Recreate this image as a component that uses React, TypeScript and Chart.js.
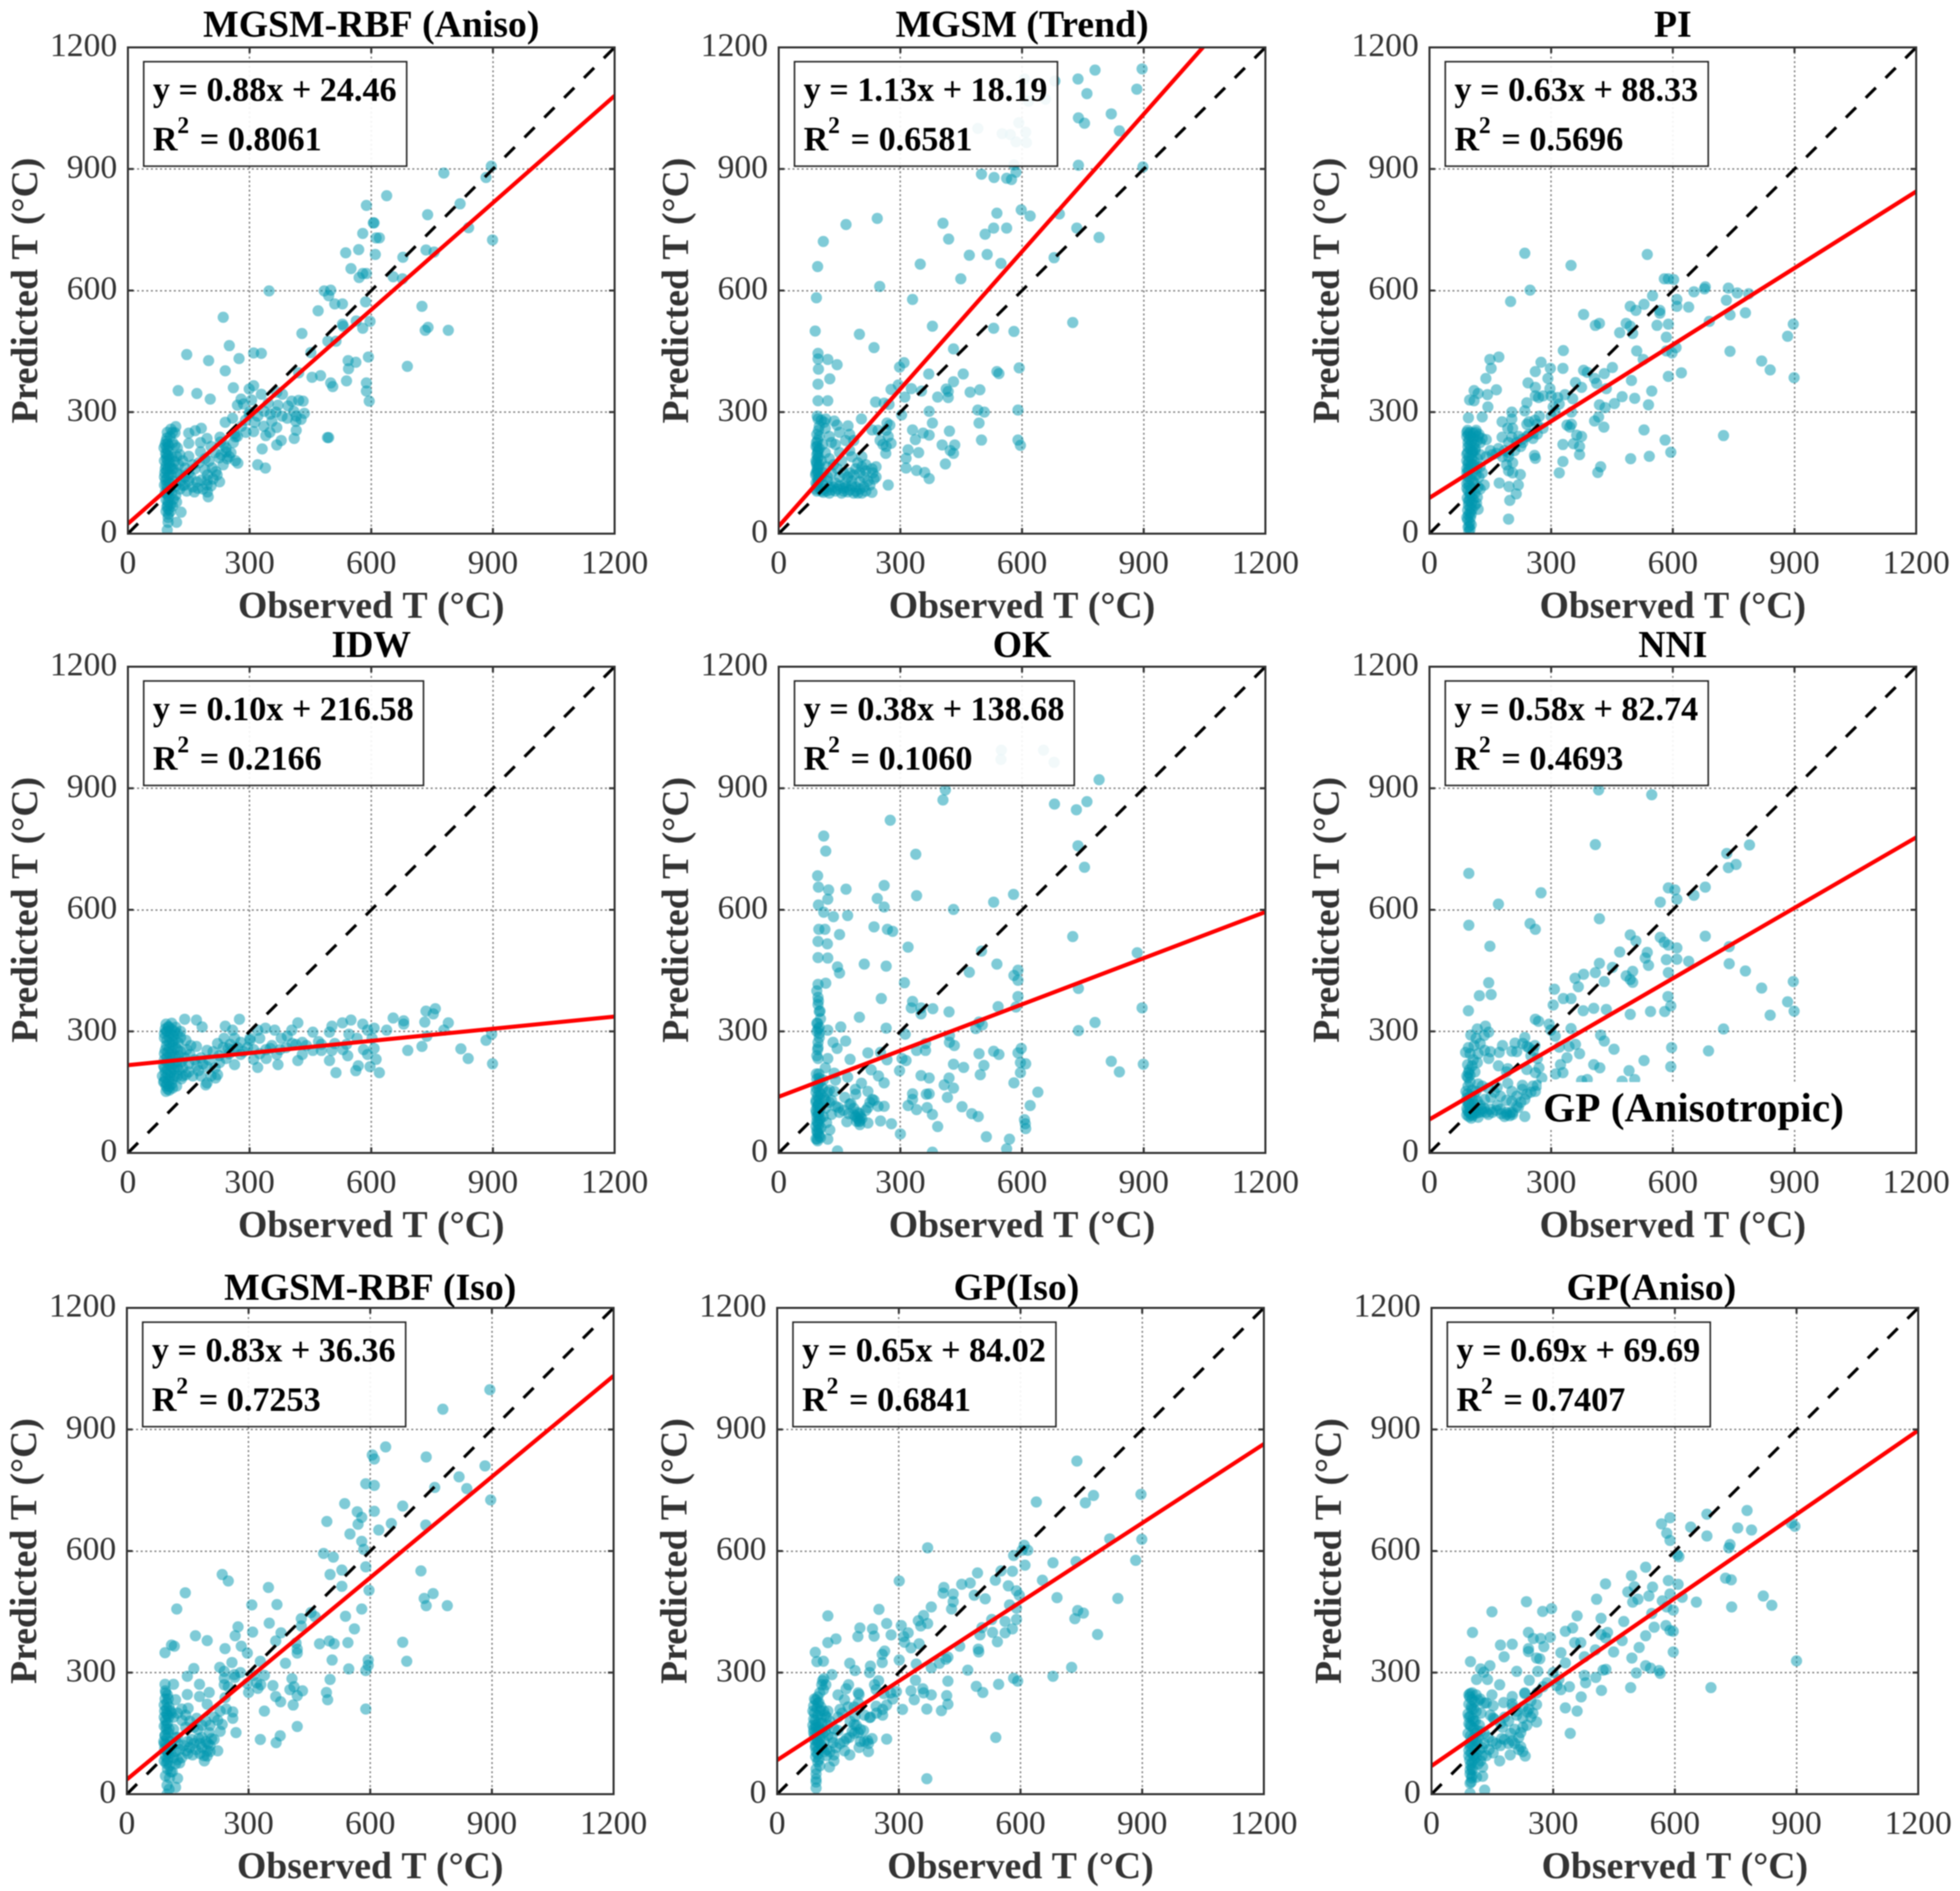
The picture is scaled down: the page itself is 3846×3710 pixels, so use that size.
import React, { useRef, useEffect } from 'react';
import Chart from 'chart.js/auto';

// values: [observed, predicted]
const rbfAnisoPoints = [[896,907],[883,879],[779,890],[819,814],[840,755],[899,725],[638,834],[588,810],[607,767],[605,767],[579,741],[612,730],[620,730],[739,787],[569,701],[537,693],[610,689],[735,700],[755,695],[678,682],[550,654],[570,632],[579,642],[588,642],[654,634],[677,629],[484,599],[500,601],[495,587],[348,599],[510,567],[529,567],[469,550],[586,572],[725,561],[235,534],[563,525],[597,524],[529,517],[531,512],[579,507],[790,502],[740,509],[733,502],[429,494],[250,464],[493,475],[513,475],[451,447],[145,442],[310,446],[329,445],[199,427],[274,432],[593,436],[543,427],[562,423],[544,407],[689,413],[240,402],[475,390],[454,386],[539,377],[588,372],[500,372],[505,363],[421,397],[260,360],[310,365],[299,357],[124,353],[170,346],[203,332],[588,352],[595,327],[279,332],[329,344],[270,317],[367,349],[381,344],[404,327],[421,329],[432,327],[346,322],[370,317],[435,297],[409,302],[336,302],[351,295],[299,295],[258,285],[240,275],[313,275],[355,277],[393,285],[414,277],[427,282],[367,262],[415,255],[310,252],[291,250],[340,242],[263,247],[410,235],[492,237],[495,237],[378,230],[367,219],[331,209],[320,170],[339,162],
  [110,250],[97,250],[118,264],[106,258],[116,249],[150,248],[166,254],[181,260],[150,223],[179,225],[195,235],[179,202],[116,218],[89,212],[120,191],[150,191],[141,162],[208,162],[200,179],[225,187],[242,202],[254,200],[271,174],[265,180],[227,238],[242,212],[265,239],[181,132],[196,132],[196,103],[198,91],[226,128],[164,103],[135,119],[217,153],[120,78],[131,53],[120,28],[99,28],[97,9],[99,40],[228,226],[236,220],[250,190],[196,145],[205,118],[130,145],[155,140],[170,128],[145,105],[118,118],[125,170],[135,180],[160,170],[190,158],
  [94,228],[98,222],[101,216],[96,210],[99,204],[93,198],[100,192],[95,186],[98,180],[102,174],[94,168],[99,162],[96,156],[91,150],[101,144],[97,138],[93,132],[100,126],[95,120],[98,114],[103,108],[92,102],[97,96],[101,90],[94,84],[99,78],[105,72],[96,66],[100,60],[108,100],[110,130],[112,160],[108,190],[105,55],
  [96,236],[104,240],[92,220],[110,225],[122,212],[128,195],[115,178],[108,160],[120,150],[130,130],[140,120],[150,130],[160,115],[172,112],[185,110],[195,120],[210,135],[220,145],[235,170],[245,185],[230,195],[215,200],[205,215],[190,185],[175,175],[165,160],[150,150],[140,140],[128,110],[118,95],[112,85],[110,68],[100,48],[95,100],[90,120],[90,140],[92,160],[90,180],[95,195],[102,185],[104,165],[106,145],[104,125],[100,105],[98,70],[94,55],[260,225],[270,240],[280,265],[290,280],[300,300],[320,290],[335,265],[350,250],[365,300],[380,290],[395,315],[415,290],[305,330],[285,320]];

const trendPoints = [[896,1147],[780,1144],[738,1122],[606,1122],[681,1117],[883,1097],[760,1086],[658,1072],[616,1067],[820,1036],[739,1026],[754,1013],[592,1014],[491,1000],[840,994],[609,991],[551,987],[571,985],[585,967],[611,965],[739,909],[898,905],[580,910],[500,887],[531,879],[562,877],[574,874],[585,892],[598,799],[620,784],[538,791],[692,789],[243,778],[166,763],[405,766],[735,754],[530,754],[562,754],[509,739],[790,731],[110,721],[419,727],[470,687],[514,689],[679,681],[349,665],[548,667],[96,659],[449,629],[249,610],[93,582],[330,578],[725,521],[530,507],[379,512],[580,499],[90,500],[199,492],[235,459],[431,456],[97,445],[97,431],[121,430],[144,417],[309,422],[298,411],[593,409],[98,406],[126,382],[370,394],[455,394],[538,400],[543,395],[431,375],[97,369],[295,367],[277,356],[327,358],[352,352],[413,357],[418,351],[472,349],[496,355],[392,337],[418,336],[311,337],[97,328],[121,328],[239,325],[260,322],[272,319],[371,302],[491,305],[507,300],[590,305],[303,293],[97,283],[116,283],[137,278],[204,283],[274,268],[267,273],[379,273],[494,273],[144,268],[171,266],[330,256],[421,253],[230,256],[356,248],[371,243],[337,232],[500,231],[590,231],[596,218],[403,219],[434,219],[277,223],[257,220],[319,207],[345,200],[423,205],[431,198],[264,198],[314,186],[411,172],[314,162],[340,156],[360,151],[371,136],[270,120],
  [94,105],[97,115],[92,125],[96,135],[91,145],[95,155],[98,165],[93,175],[96,185],[94,195],[97,205],[95,215],[93,225],[100,240],[98,255],[96,200],[94,170],[97,150],[110,102],[125,100],[140,105],[155,100],[170,103],[185,100],[195,100],[205,100],[230,102],[130,150],[150,140],[165,125],[180,130],[200,150],[215,170],[230,160],[240,165],[220,130],[235,135],[120,130],[140,125],[190,160],[210,140],[205,190],[180,190],[150,200],[140,220],[125,240],[115,260],[165,230],[150,250],[175,245],[190,115],[160,112],[110,120],[105,140],[210,115],[200,128],[175,150],
  [92,110],[95,120],[98,130],[100,140],[92,150],[95,160],[100,170],[92,180],[98,190],[100,210],[92,215],[96,230],[94,245],[105,105],[112,110],[118,105],[125,115],[130,108],[135,115],[145,110],[150,118],[160,105],[165,115],[175,108],[180,118],[190,105],[200,110],[215,105],[225,120],[240,140],[232,150],[215,155],[205,165],[195,175],[185,145],[170,140],[160,150],[145,160],[135,170],[125,185],[115,200],[108,220],[118,165],[105,180],[110,150],[120,140],[100,265],[105,280],[95,290],[112,275],[130,225],[155,180],[175,205],[185,230],[250,230],[265,215],[270,240],[245,255],[265,255]];

const piPoints = [[235,692],[537,689],[349,662],[579,629],[589,629],[602,627],[248,601],[652,597],[678,604],[680,609],[737,606],[759,594],[787,592],[550,587],[610,578],[200,573],[732,576],[495,561],[529,566],[610,561],[639,559],[568,551],[509,551],[568,544],[380,541],[741,540],[779,545],[409,514],[419,519],[485,519],[495,512],[561,514],[589,517],[690,524],[897,517],[469,496],[501,494],[584,485],[883,487],[608,459],[330,452],[511,451],[584,451],[741,450],[598,446],[149,430],[171,436],[275,423],[527,430],[819,426],[152,408],[298,408],[329,408],[451,410],[840,404],[380,403],[261,400],[389,398],[431,395],[621,397],[589,388],[139,383],[407,383],[292,383],[498,378],[899,385],[243,372],[360,373],[412,371],[261,361],[375,361],[436,358],[110,353],[165,355],[548,352],[120,346],[143,343],[297,358],[334,343],[261,340],[269,336],[475,338],[316,336],[506,334],[99,330],[110,328],[353,333],[240,323],[144,313],[540,318],[419,318],[456,321],[433,311],[203,300],[235,303],[305,313],[96,286],[130,288],[271,290],[179,276],[203,283],[245,276],[407,278],[417,288],[339,268],[346,263],[430,263],[529,256],[193,260],[256,248],[363,243],[375,240],[266,246],[725,242],[581,231],[179,238],[203,238],[229,233],[329,220],[355,222],[370,215],[595,201],[370,195],[259,193],[261,186],[496,185],[542,191],[329,178],[422,165],[415,151],[320,150],[224,146],[172,125],[196,116],[219,120],[214,98],[198,82],[195,36],
  [94,255],[100,250],[108,248],[115,255],[122,245],[130,235],[140,232],[150,205],[165,198],[180,190],[190,170],[195,155],[205,150],[210,205],[225,215],[240,240],[130,150],[125,110],[135,120],[118,90],[112,70],[120,60],[92,240],[98,232],[104,226],[110,220],[95,214],[101,208],[107,202],[92,196],[98,190],[104,184],[110,178],[95,172],[101,166],[92,160],[98,154],[105,148],[94,142],[100,136],[106,130],[92,124],[98,118],[103,112],[95,106],[100,100],[105,94],[93,88],[99,82],[104,76],[96,70],[101,64],[94,58],[100,52],[96,46],[101,40],[94,34],[99,28],[103,22],[95,16],[100,10],[97,5],[113,210],[118,230],[125,195],[116,160],[122,140],
  [92,250],[96,245],[102,240],[108,235],[114,250],[120,240],[125,225],[112,205],[118,185],[125,165],[115,145],[110,125],[120,115],[112,100],[108,85],[116,75],[105,60],[94,200],[97,178],[92,150],[103,172],[96,158],[106,205],[100,218],[95,225],[92,180],[104,198],[108,170],[96,128],[92,112],[100,94],[96,80],[103,48],[92,40],[98,18],[140,190],[155,195],[170,210],[185,205],[195,190],[205,175],[195,200],[215,225],[230,225],[245,245],[255,235],[265,270],[280,260],[260,280],[240,270],[220,240],[205,260],[195,225],[300,290],[310,300],[320,320],[300,340],[280,340],[350,270],[350,300]];

const idwPoints = [[140,330],[169,328],[183,311],[275,330],[240,313],[258,303],[301,278],[221,270],[252,268],[339,308],[320,303],[362,303],[404,303],[419,321],[456,298],[497,298],[503,313],[529,321],[550,328],[579,318],[607,308],[638,303],[654,333],[680,326],[680,318],[735,350],[758,356],[753,343],[790,321],[732,323],[737,288],[779,303],[897,293],[883,278],[821,257],[839,233],[899,220],[725,263],[690,253],[513,198],[562,203],[568,215],[620,198],[597,213],[612,231],[591,243],[581,255],[607,258],[542,240],[497,228],[419,228],[430,243],[414,268],[320,211],[310,231],[341,233],[370,218],[367,243],[351,258],[325,283],[301,283],[378,283],[393,288],[430,273],[456,253],[477,253],[503,253],[477,268],[539,268],[565,283],[591,303],[602,283],[545,293],[263,218],[221,193],[195,173],[192,168],[216,185],[153,243],[169,263],[195,253],[226,223],[242,233],[278,243],[247,258],[195,213],[143,193],[132,183],[122,213],[143,278],[174,203],[263,283],[237,283],[278,273],
  [94,318],[100,312],[108,320],[92,306],[98,300],[105,295],[112,290],[90,284],[96,278],[103,272],[110,266],[118,260],[92,254],[98,248],[104,242],[110,236],[116,280],[124,272],[90,230],[96,224],[102,218],[108,212],[114,206],[92,200],[98,194],[104,188],[110,182],[90,176],[96,170],[102,164],[98,158],[94,152],[125,240],[132,225],[130,300],[118,310],[85,190],[88,215],[122,190],[150,220],[165,230],[180,235],
  [100,310],[95,300],[108,305],[115,300],[122,295],[130,285],[90,295],[102,285],[110,275],[95,265],[102,258],[90,245],[108,250],[115,240],[122,255],[96,235],[104,225],[112,220],[90,210],[98,205],[106,198],[115,190],[92,185],[100,178],[108,170],[94,165],[102,155],[110,160],[120,165],[88,175],[135,210],[140,235],[150,200],[160,190],[170,215],[180,190],[185,220],[200,230],[210,250],[225,240],[235,260],[250,245],[260,255],[270,260],[285,250],[295,260],[310,255],[325,245],[340,255],[355,265],[375,255],[390,260],[405,270],[440,265],[470,275],[510,270],[530,255],[145,255],[155,265],[120,225],[130,250],[125,205],[135,190],[205,190],[215,210]];

const okPoints = [[549,994],[653,994],[548,971],[679,964],[790,921],[411,896],[405,871],[680,861],[760,867],[734,847],[275,821],[111,782],[116,745],[738,758],[338,737],[754,705],[96,684],[98,656],[123,649],[260,660],[166,651],[340,635],[579,638],[243,628],[121,626],[530,619],[260,607],[98,612],[111,594],[431,601],[135,583],[170,586],[99,552],[114,552],[235,558],[268,552],[281,547],[150,539],[725,534],[97,522],[120,516],[319,508],[500,498],[884,494],[97,482],[121,481],[211,466],[538,466],[265,461],[145,459],[150,444],[470,446],[590,451],[580,438],[590,426],[97,416],[116,419],[310,420],[739,406],[97,384],[253,381],[330,374],[590,386],[97,366],[100,349],[327,358],[351,358],[380,356],[541,361],[585,360],[896,358],[351,343],[420,348],[199,335],[103,331],[494,323],[502,316],[780,322],[153,311],[265,308],[486,307],[97,306],[121,303],[739,302],[312,293],[421,290],[97,273],[165,276],[134,273],[144,258],[421,273],[433,265],[340,253],[362,253],[362,270],[530,251],[543,243],[590,247],[598,258],[220,247],[251,248],[494,245],[97,233],[121,233],[176,231],[267,230],[304,233],[314,228],[506,216],[431,219],[456,211],[596,223],[609,220],[820,226],[899,219],[596,198],[840,200],[298,203],[228,205],[351,191],[371,185],[497,193],[246,190],[420,185],[408,168],[580,173],[260,173],[431,160],[639,150],[330,146],[364,145],[371,146],[416,137],[330,132],[319,117],[340,107],[366,112],[452,114],[620,117],[260,115],[379,95],[476,97],[492,90],[606,82],[608,72],[609,60],[392,65],[251,79],[278,72],[300,47],[512,40],[569,34],[562,10],[379,2],[145,5],[121,34],[95,34],
  [137,197],[170,187],[204,172],[189,157],[220,152],[163,137],[137,152],[231,132],[220,112],[147,112],[178,122],[173,97],[199,97],[199,77],[168,77],[220,74],[126,57],[94,320],[100,295],[96,255],[93,195],[100,185],[97,170],[93,160],[100,150],[96,140],[92,130],[99,122],[95,114],[92,106],[98,98],[94,90],[100,82],[96,74],[92,66],[99,58],[95,50],[100,42],[108,160],[112,135],[115,110],[110,90],[118,75],[125,125],[190,90],[195,85],[200,70],[185,95],
  [92,125],[97,118],[102,110],[93,100],[98,92],[103,85],[94,78],[99,70],[104,62],[94,55],[98,48],[103,38],[92,35],[96,30],[100,135],[104,145],[92,150],[97,165],[102,175],[94,182],[99,195],[94,240],[97,260],[100,285],[94,300],[100,310],[96,320],[102,350],[98,375],[94,400],[120,150],[130,130],[140,115],[150,100],[160,105],[175,120],[185,110],[195,100],[205,85],[215,105],[225,125],[235,130],[245,115],[130,95],[115,130],[125,155],[110,180],[115,210],[140,180],[190,145],[200,80],[202,90],[192,78]];

const nniPoints = [[417,896],[548,884],[409,761],[789,760],[733,739],[756,712],[737,704],[97,690],[589,654],[605,649],[680,656],[610,626],[652,636],[275,642],[569,619],[170,614],[419,578],[97,562],[248,566],[261,552],[495,538],[569,532],[509,523],[680,535],[579,520],[589,513],[149,510],[739,509],[610,506],[469,496],[537,495],[532,481],[584,477],[610,478],[419,468],[639,473],[540,463],[739,467],[451,458],[779,449],[409,445],[380,441],[501,448],[589,445],[359,431],[485,437],[495,428],[431,423],[146,420],[501,421],[897,423],[367,410],[819,407],[308,404],[123,388],[152,391],[330,381],[349,381],[588,386],[883,373],[305,365],[595,363],[379,351],[405,357],[436,354],[96,351],[580,349],[545,349],[899,350],[495,342],[840,340],[261,330],[269,325],[295,318],[138,313],[118,306],[349,307],[299,303],[725,306],[146,298],[102,291],[115,283],[310,288],[235,285],[422,291],[431,276],[360,268],[180,265],[211,271],[240,263],[320,261],[344,263],[597,260],[455,256],[688,252],[89,248],[136,253],[172,248],[203,251],[256,253],[370,245],[146,233],[266,233],[339,235],[529,228],[323,218],[405,218],[420,210],[595,213],[118,223],[94,218],[193,208],[240,206],[261,198],[492,203],[329,198],[311,195],[277,185],[506,181],[389,181],[375,178],[475,177],
  [120,88],[130,102],[177,97],[198,92],[235,90],[219,112],[229,157],[261,152],[203,152],[167,162],[193,172],[151,137],[203,127],[235,132],[167,117],[136,132],[115,152],[266,167],[229,167],[96,198],[100,192],[95,186],[90,152],[94,146],[100,140],[105,134],[92,128],[98,122],[104,116],[110,110],[94,104],[100,98],[106,92],[112,100],[92,94],[97,90],[103,86],[110,120],[118,128],[125,118],[140,100],[150,108],[190,100],[200,100],[205,95],
  [92,135],[96,120],[100,110],[105,105],[92,110],[98,100],[104,95],[110,102],[115,98],[122,100],[128,108],[135,110],[145,95],[155,100],[165,105],[175,108],[185,90],[190,95],[205,100],[215,115],[225,125],[240,145],[250,150],[255,165],[215,140],[190,130],[175,140],[160,150],[145,160],[130,165],[120,170],[110,140],[105,155],[95,165],[100,175],[92,190],[98,205],[105,215],[112,200],[108,230],[100,245],[96,260],[110,265],[120,245],[125,270],[135,290],[150,250],[170,215],[190,200],[215,250],[230,270],[245,260],[260,265],[250,240],[270,210]];

const rbfIsoPoints = [[895,998],[779,950],[638,857],[605,837],[610,827],[738,832],[883,810],[819,783],[589,766],[610,762],[759,757],[838,754],[897,726],[537,717],[680,711],[568,697],[610,698],[579,683],[493,673],[570,666],[652,668],[621,652],[737,664],[550,642],[579,624],[584,604],[485,594],[509,585],[589,561],[530,553],[725,551],[501,542],[235,542],[250,526],[530,513],[349,510],[597,503],[144,497],[755,495],[733,483],[308,467],[370,468],[738,465],[790,465],[123,457],[579,457],[454,448],[430,433],[464,438],[539,439],[351,422],[274,413],[430,415],[561,408],[310,400],[380,398],[169,391],[267,391],[198,379],[367,378],[499,378],[475,371],[511,371],[545,374],[680,375],[110,368],[117,365],[282,365],[242,359],[417,373],[420,358],[94,349],[297,348],[420,348],[690,328],[329,328],[259,325],[506,331],[595,331],[391,323],[595,318],[589,305],[165,310],[547,309],[229,313],[240,303],[149,291],[240,286],[266,288],[313,293],[339,293],[407,285],[501,283],[179,271],[115,271],[94,271],[360,268],[297,273],[323,261],[412,265],[433,255],[402,258],[203,251],[149,246],[492,251],[300,251],[179,241],[367,241],[420,243],[242,238],[495,233],[379,228],[410,220],[198,222],[589,210],[120,233],[151,212],[339,205],[261,203],[261,187],[269,152],[420,167],[378,144],[329,135],[368,127],[235,172],[224,182],[203,152],[177,137],[209,137],[224,107],[198,107],[198,94],[191,82],[162,97],[146,107],[130,77],[125,39],[120,17],[99,22],[99,0],[104,12],
  [136,182],[172,187],[95,255],[100,245],[94,235],[99,225],[104,215],[93,205],[98,198],[103,190],[95,182],[100,175],[92,168],[97,160],[102,152],[94,145],[99,138],[91,130],[96,124],[101,118],[93,112],[98,106],[103,100],[95,94],[100,88],[92,82],[97,76],[105,70],[100,62],[108,55],[115,160],[120,140],[125,125],[130,110],[150,130],[165,125],[185,115],[200,125],[145,165],[110,200],
  [96,250],[102,235],[92,220],[98,210],[108,205],[115,190],[125,200],[135,210],[145,195],[155,180],[165,165],[175,160],[185,170],[195,180],[205,170],[215,190],[230,205],[245,210],[230,155],[215,135],[195,130],[180,125],[170,110],[155,115],[140,120],[125,140],[112,120],[108,100],[115,90],[120,75],[112,55],[105,40],[95,45],[100,105],[92,125],[94,145],[97,170],[92,190],[104,160],[106,130],[100,195],[100,80],[205,105],[180,100],[190,95],[205,120],[185,140],[150,100],[135,90],[160,135],[120,105],[125,85],[240,270],[250,265],[265,295],[280,300],[320,275],[330,270]];

const gpIsoPoints = [[739,822],[639,721],[897,740],[780,737],[760,719],[609,614],[371,608],[820,630],[899,629],[604,602],[618,602],[583,589],[737,574],[680,571],[884,577],[611,565],[494,546],[552,551],[580,550],[301,526],[455,518],[476,521],[411,510],[538,528],[570,514],[654,528],[409,496],[434,494],[590,502],[597,491],[486,491],[513,482],[690,485],[840,483],[434,475],[380,462],[430,457],[251,456],[573,467],[590,459],[741,453],[755,447],[125,440],[361,441],[734,433],[529,431],[590,431],[348,428],[270,421],[371,421],[306,416],[354,415],[562,426],[204,410],[235,408],[580,408],[505,411],[323,398],[281,393],[239,390],[199,389],[312,389],[562,398],[531,399],[500,393],[790,394],[145,383],[125,374],[314,375],[350,371],[543,376],[450,365],[330,361],[265,353],[496,358],[94,350],[497,351],[259,345],[421,338],[416,333],[301,331],[98,327],[114,328],[179,323],[259,325],[343,321],[380,312],[400,323],[230,316],[192,305],[726,313],[470,306],[228,300],[135,295],[680,291],[583,286],[593,279],[112,280],[341,281],[421,279],[546,271],[176,270],[240,270],[244,258],[491,266],[507,251],[114,258],[359,260],[330,255],[294,253],[202,246],[263,248],[361,250],[380,245],[418,243],[166,233],[338,233],[421,222],[155,209],[309,209],[369,210],[405,206],[260,209],[244,217],[228,189],[192,192],[190,172],[213,157],[270,136],[539,140],[234,137],[223,132],[200,152],[140,162],[150,157],[171,137],[138,127],[202,115],[225,105],[166,107],[179,97],[140,97],[129,67],[140,82],[96,37],[96,15],[369,38],[96,62],
  [100,240],[95,232],[103,226],[90,218],[98,212],[106,206],[92,200],[100,194],[108,188],[94,182],[102,176],[88,170],[96,164],[104,158],[90,152],[98,146],[106,140],[92,134],[100,128],[108,122],[94,116],[102,110],[96,104],[100,98],[95,92],[103,86],[112,150],[118,195],[125,170],[116,130],[122,110],[110,175],
  [92,235],[100,225],[108,215],[115,205],[122,190],[130,180],[95,170],[102,165],[110,160],[118,155],[125,145],[135,140],[92,145],[98,135],[104,125],[110,115],[116,105],[122,95],[130,105],[145,115],[155,125],[165,130],[178,140],[190,150],[205,160],[215,130],[225,125],[205,130],[195,170],[185,155],[150,190],[160,200],[175,215],[190,215],[200,225],[215,195],[180,180],[105,250],[110,270],[115,285],[120,270],[150,245],[170,260],[200,250],[230,190],[245,200],[260,195],[270,220],[285,235],[280,250],[250,280],[100,80],[105,70],[96,50],[96,30],[125,205],[90,185],[88,205],[90,160],[95,120]];

const gpAnisoPoints = [[778,700],[679,691],[588,682],[567,667],[639,659],[755,657],[789,652],[887,669],[896,661],[580,644],[679,637],[588,626],[736,616],[733,608],[606,591],[610,586],[528,560],[493,539],[429,519],[500,512],[545,511],[608,518],[584,527],[725,533],[739,529],[484,499],[536,489],[588,494],[818,489],[407,481],[509,481],[496,474],[569,477],[618,486],[234,475],[653,474],[839,466],[296,458],[740,462],[274,451],[149,450],[580,462],[596,454],[359,440],[418,434],[543,446],[474,426],[578,416],[549,412],[348,410],[330,402],[101,399],[239,399],[588,404],[596,402],[434,399],[418,394],[429,386],[528,391],[293,387],[269,384],[251,384],[353,374],[470,379],[368,374],[170,368],[199,370],[277,364],[239,359],[512,362],[449,351],[596,351],[404,356],[239,352],[319,349],[179,339],[259,336],[267,334],[494,336],[377,339],[900,329],[96,327],[330,324],[144,317],[121,309],[528,317],[210,303],[540,311],[262,303],[423,306],[505,299],[561,305],[430,308],[564,298],[129,301],[377,293],[405,288],[314,283],[241,281],[111,283],[138,283],[168,270],[380,275],[340,265],[309,268],[491,263],[689,263],[319,258],[419,256],[95,248],[149,245],[230,248],[369,240],[199,241],[116,231],[178,226],[259,221],[199,223],[330,213],[359,205],[152,218],[236,203],[210,195],[259,178],[225,188],[342,150],[152,188],[173,137],[199,132],[220,152],[220,117],[231,94],[194,97],[168,82],[152,102],[121,82],[126,44],[111,42],[131,10],[95,2],[95,27],[126,67],
  [94,240],[100,234],[106,228],[92,222],[98,216],[104,210],[110,204],[90,198],[96,192],[102,186],[108,180],[92,174],[98,168],[104,162],[114,156],[90,150],[96,144],[102,138],[108,132],[94,126],[100,120],[106,114],[92,108],[98,102],[104,96],[110,90],[94,84],[100,78],[96,72],[101,60],[95,50],[99,40],[118,170],[122,200],[130,225],[115,140],[125,95],[130,125],
  [92,245],[100,250],[110,245],[120,235],[135,225],[145,195],[155,185],[170,175],[180,190],[190,180],[200,215],[210,205],[225,215],[240,210],[250,200],[245,190],[235,170],[225,165],[215,140],[205,125],[190,125],[180,135],[170,120],[160,125],[150,130],[140,140],[130,150],[120,155],[112,130],[118,110],[125,115],[135,95],[142,110],[110,100],[105,85],[100,65],[95,60],[100,45],[98,30],[95,170],[92,190],[99,210],[104,180],[108,150],[103,130],[95,118],[92,95],[115,75],[175,165],[195,150],[205,160],[215,110],[225,105],[230,250],[245,230],[260,250],[275,265],[285,275],[300,300]];

const seriesPoints = [rbfAnisoPoints, trendPoints, piPoints, idwPoints, okPoints, nniPoints, rbfIsoPoints, gpIsoPoints, gpAnisoPoints];

const panelTitles = ['MGSM-RBF (Aniso)', 'MGSM (Trend)', 'PI', 'IDW', 'OK', 'NNI', 'MGSM-RBF (Iso)', 'GP(Iso)', 'GP(Aniso)'];
const fitEquations = ['y = 0.88x + 24.46', 'y = 1.13x + 18.19', 'y = 0.63x + 88.33', 'y = 0.10x + 216.58', 'y = 0.38x + 138.68', 'y = 0.58x + 82.74', 'y = 0.83x + 36.36', 'y = 0.65x + 84.02', 'y = 0.69x + 69.69'];
const rSquaredValues = ['0.8061', '0.6581', '0.5696', '0.2166', '0.1060', '0.4693', '0.7253', '0.6841', '0.7407'];
const fitAtZero = [24.46, 18.19, 88.33, 216.58, 138.68, 82.74, 36.36, 84.02, 69.69];
const fitAt1200 = [1080.46, 1374.19, 844.33, 336.58, 594.68, 778.74, 1032.36, 864.02, 897.69];
const axisTicks = [0, 300, 600, 900, 1200];
const xAxisLabel = 'Observed T (°C)';
const yAxisLabel = 'Predicted T (°C)';
const stampText = 'GP (Anisotropic)';

// where each plot box sits on the page
const plotLeft = [251, 1528, 2805, 251, 1528, 2805, 249, 1525, 2809];
const plotTop = [93, 93, 93, 1308, 1308, 1308, 2566, 2566, 2566];
const titleGap = [21, 21, 21, 19, 19, 19, 16, 16, 16];
const titleShift = [0, 0, 0, 0, 0, 0, 0, -8, -46];
const boxWidth = [516, 516, 516, 549, 549, 516, 516, 516, 516];
const PLOT_W = 955;
const PLOT_H = 954;
const MARGIN_LEFT = 250;
const MARGIN_TOP = 100;
const MARGIN_RIGHT = 90;
const AXIS_BOTTOM = 200;

const SERIF = '"Liberation Serif", serif';
const INK = '#333333';

const ScatterPanel: React.FC<{ index: number }> = ({ index }) => {
  const canvasRef = useRef<HTMLCanvasElement>(null);

  useEffect(() => {
    if (!canvasRef.current) return;

    const decor = {
      id: 'decor',
      afterDatasetsDraw(chart: Chart) {
        const { ctx, chartArea: a } = chart;
        const xs = chart.scales.x;
        const ys = chart.scales.y;
        ctx.save();

        // inward ticks and frame
        ctx.strokeStyle = INK;
        ctx.lineWidth = 4;
        ctx.beginPath();
        axisTicks.slice(1, -1).forEach((t) => {
          const px = xs.getPixelForValue(t);
          const py = ys.getPixelForValue(t);
          ctx.moveTo(px, a.bottom);
          ctx.lineTo(px, a.bottom - 11);
          ctx.moveTo(px, a.top);
          ctx.lineTo(px, a.top + 11);
          ctx.moveTo(a.left, py);
          ctx.lineTo(a.left + 11, py);
          ctx.moveTo(a.right, py);
          ctx.lineTo(a.right - 11, py);
        });
        ctx.stroke();
        ctx.strokeRect(a.left, a.top, a.right - a.left, a.bottom - a.top);

        // title
        ctx.fillStyle = '#000';
        ctx.font = `bold 74px ${SERIF}`;
        ctx.textAlign = 'center';
        ctx.textBaseline = 'alphabetic';
        ctx.fillText(panelTitles[index], (a.left + a.right) / 2 + titleShift[index], a.top - titleGap[index]);

        // equation box
        const bx = a.left + 31;
        const by = a.top + 28;
        ctx.fillStyle = 'rgba(255,255,255,0.9)';
        ctx.fillRect(bx, by, boxWidth[index], 205);
        ctx.lineWidth = 3;
        ctx.strokeStyle = '#222';
        ctx.strokeRect(bx, by, boxWidth[index], 205);

        ctx.fillStyle = '#000';
        ctx.textAlign = 'left';
        ctx.font = `bold 67px ${SERIF}`;
        ctx.fillText(fitEquations[index], bx + 18, by + 77);
        ctx.fillText('R', bx + 18, by + 174);
        ctx.fillText(`= ${rSquaredValues[index]}`, bx + 110, by + 174);
        ctx.font = `bold 46px ${SERIF}`;
        ctx.fillText('2', bx + 66, by + 140);

        // pasted label on the NNI panel
        if (index === 5) {
          ctx.fillStyle = '#fff';
          ctx.fillRect(a.left + 220, a.top + 815, 639, 90);
          ctx.fillStyle = '#000';
          ctx.font = `bold 81px ${SERIF}`;
          ctx.fillText(stampText, a.left + 223, a.top + 892);
        }
        ctx.restore();
      },
    };

    const chart = new Chart(canvasRef.current, {
      type: 'scatter',
      data: {
        datasets: [
          {
            label: 'fit',
            data: [{ x: 0, y: fitAtZero[index] }, { x: 1200, y: fitAt1200[index] }],
            showLine: true,
            borderColor: '#ff0000',
            borderWidth: 8,
            pointRadius: 0,
            order: 0,
          },
          {
            label: 'identity',
            data: [{ x: axisTicks[0], y: axisTicks[0] }, { x: axisTicks[4], y: axisTicks[4] }],
            showLine: true,
            borderColor: '#000000',
            borderWidth: 6,
            borderDash: [28, 27],
            pointRadius: 0,
            order: 1,
          },
          {
            label: 'points',
            data: seriesPoints[index].map(([x, y]) => ({ x, y })),
            backgroundColor: 'rgba(0,152,176,0.5)',
            pointRadius: 11,
            pointBorderWidth: 0,
            order: 2,
          },
        ],
      },
      options: {
        animation: false,
        responsive: false,
        devicePixelRatio: 1,
        events: [],
        layout: { padding: { top: MARGIN_TOP, right: MARGIN_RIGHT, left: 0, bottom: 0 } },
        plugins: { legend: { display: false }, tooltip: { enabled: false } },
        scales: {
          x: {
            type: 'linear',
            min: 0,
            max: 1200,
            afterFit: (s: any) => { s.height = AXIS_BOTTOM; },
            afterBuildTicks: (s: any) => { s.ticks = axisTicks.map((value) => ({ value })); },
            border: { display: false, dash: [4, 5] },
            grid: { color: '#8c8c8c', lineWidth: 3, drawTicks: false },
            ticks: { color: INK, font: { family: SERIF, size: 66 }, padding: 21, maxRotation: 0, autoSkip: false, callback: (v: any) => String(v) },
            title: { display: true, text: xAxisLabel, color: INK, font: { family: SERIF, size: 74, weight: 'bold' }, padding: { top: 22, bottom: 10 } },
          },
          y: {
            type: 'linear',
            min: 0,
            max: 1200,
            afterFit: (s: any) => { s.width = MARGIN_LEFT; },
            afterBuildTicks: (s: any) => { s.ticks = axisTicks.map((value) => ({ value })); },
            border: { display: false, dash: [4, 5] },
            grid: { color: '#8c8c8c', lineWidth: 3, drawTicks: false },
            ticks: { color: INK, font: { family: SERIF, size: 66 }, padding: 21, autoSkip: false, callback: (v: any) => String(v) },
            title: { display: true, text: yAxisLabel, color: INK, font: { family: SERIF, size: 74, weight: 'bold' }, padding: { top: 8, bottom: 0 } },
          },
        },
      },
      plugins: [decor],
    } as any);

    return () => {
      chart.destroy();
    };
  }, [index]);

  return (
    <canvas
      ref={canvasRef}
      width={MARGIN_LEFT + PLOT_W + MARGIN_RIGHT}
      height={MARGIN_TOP + PLOT_H + AXIS_BOTTOM}
      style={{ position: 'absolute', left: plotLeft[index] - MARGIN_LEFT, top: plotTop[index] - MARGIN_TOP }}
    />
  );
};

export default function App() {
  return (
    <div style={{ position: 'absolute', left: 0, top: 0, width: 3846, height: 3710, background: '#fff', overflow: 'hidden', filter: 'blur(1px)' }}>
      {panelTitles.map((_, i) => <ScatterPanel key={i} index={i} />)}
    </div>
  );
}
